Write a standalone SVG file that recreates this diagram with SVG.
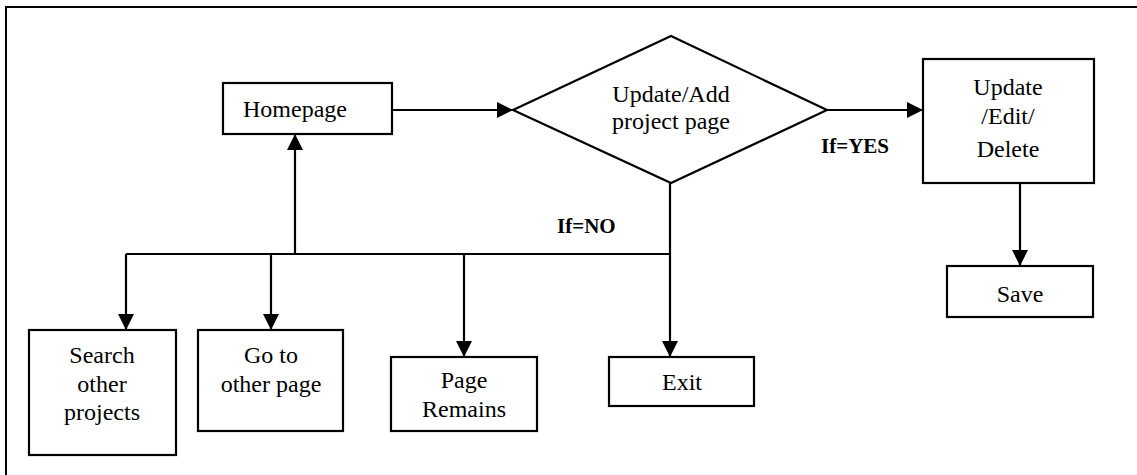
<svg xmlns="http://www.w3.org/2000/svg" width="1137" height="475" viewBox="0 0 1137 475">
<style>
.box{fill:#fff;stroke:#000;stroke-width:2.2}
.t{font-family:'Liberation Serif','Times New Roman','DejaVu Serif','Noto Serif',Times,serif;font-size:24px;fill:#000;text-anchor:middle}
.lb{font-family:'Liberation Serif','Times New Roman','DejaVu Serif','Noto Serif',Times,serif;font-size:21px;font-weight:bold;fill:#000}
.c{fill:none;stroke:#000;stroke-width:2.2}
</style>
<defs>
<marker id="ah" markerWidth="16" markerHeight="16" refX="16" refY="8" orient="auto" markerUnits="userSpaceOnUse" viewBox="0 0 16 16">
<path d="M0,0 L16,8 L0,16 Z" fill="#000"/>
</marker>
</defs>
<rect width="1137" height="475" fill="#fff"/>
<rect x="6" y="7" width="1200" height="520" fill="none" stroke="#000" stroke-width="2"/>
<g id="connectors">
<path class="c" d="M392,110 L513,110" marker-end="url(#ah)"/>
<path class="c" d="M827,110 L923,110" marker-end="url(#ah)"/>
<path class="c" d="M1020,183 L1020,266" marker-end="url(#ah)"/>
<path class="c" d="M295,254 L295,134" marker-end="url(#ah)"/>
<path class="c" d="M126,254 L670,254"/>
<path class="c" d="M670,183 L670,357" marker-end="url(#ah)"/>
<path class="c" d="M126,254 L126,330" marker-end="url(#ah)"/>
<path class="c" d="M271,254 L271,330" marker-end="url(#ah)"/>
<path class="c" d="M464,254 L464,357" marker-end="url(#ah)"/>
<text class="lb" x="557" y="233">If=NO</text>
<text class="lb" x="821" y="153">If=YES</text>
</g>
<g id="homepage">
<rect class="box" x="223" y="83" width="169" height="51"/>
<text class="t" x="295" y="117">Homepage</text>
</g>
<g id="decision">
<polygon class="box" points="513,110 671,36 827,110 671,183"/>
<text class="t" x="671" y="102">Update/Add</text>
<text class="t" x="671" y="129">project page</text>
</g>
<g id="update">
<rect class="box" x="923" y="59" width="171" height="124"/>
<text class="t" x="1008" y="95">Update</text>
<text class="t" x="1008" y="124">/Edit/</text>
<text class="t" x="1008" y="157">Delete</text>
</g>
<g id="save">
<rect class="box" x="947" y="266" width="146" height="51"/>
<text class="t" x="1020" y="302">Save</text>
</g>
<g id="search">
<rect class="box" x="29" y="330" width="147" height="125"/>
<text class="t" x="102" y="363">Search</text>
<text class="t" x="102" y="392">other</text>
<text class="t" x="102" y="420">projects</text>
</g>
<g id="goto">
<rect class="box" x="198" y="330" width="145" height="101"/>
<text class="t" x="271" y="363">Go to</text>
<text class="t" x="271" y="392">other page</text>
</g>
<g id="remains">
<rect class="box" x="391" y="357" width="146" height="74"/>
<text class="t" x="464" y="388">Page</text>
<text class="t" x="464" y="417">Remains</text>
</g>
<g id="exit">
<rect class="box" x="609" y="357" width="145" height="49"/>
<text class="t" x="682" y="390">Exit</text>
</g>
</svg>
